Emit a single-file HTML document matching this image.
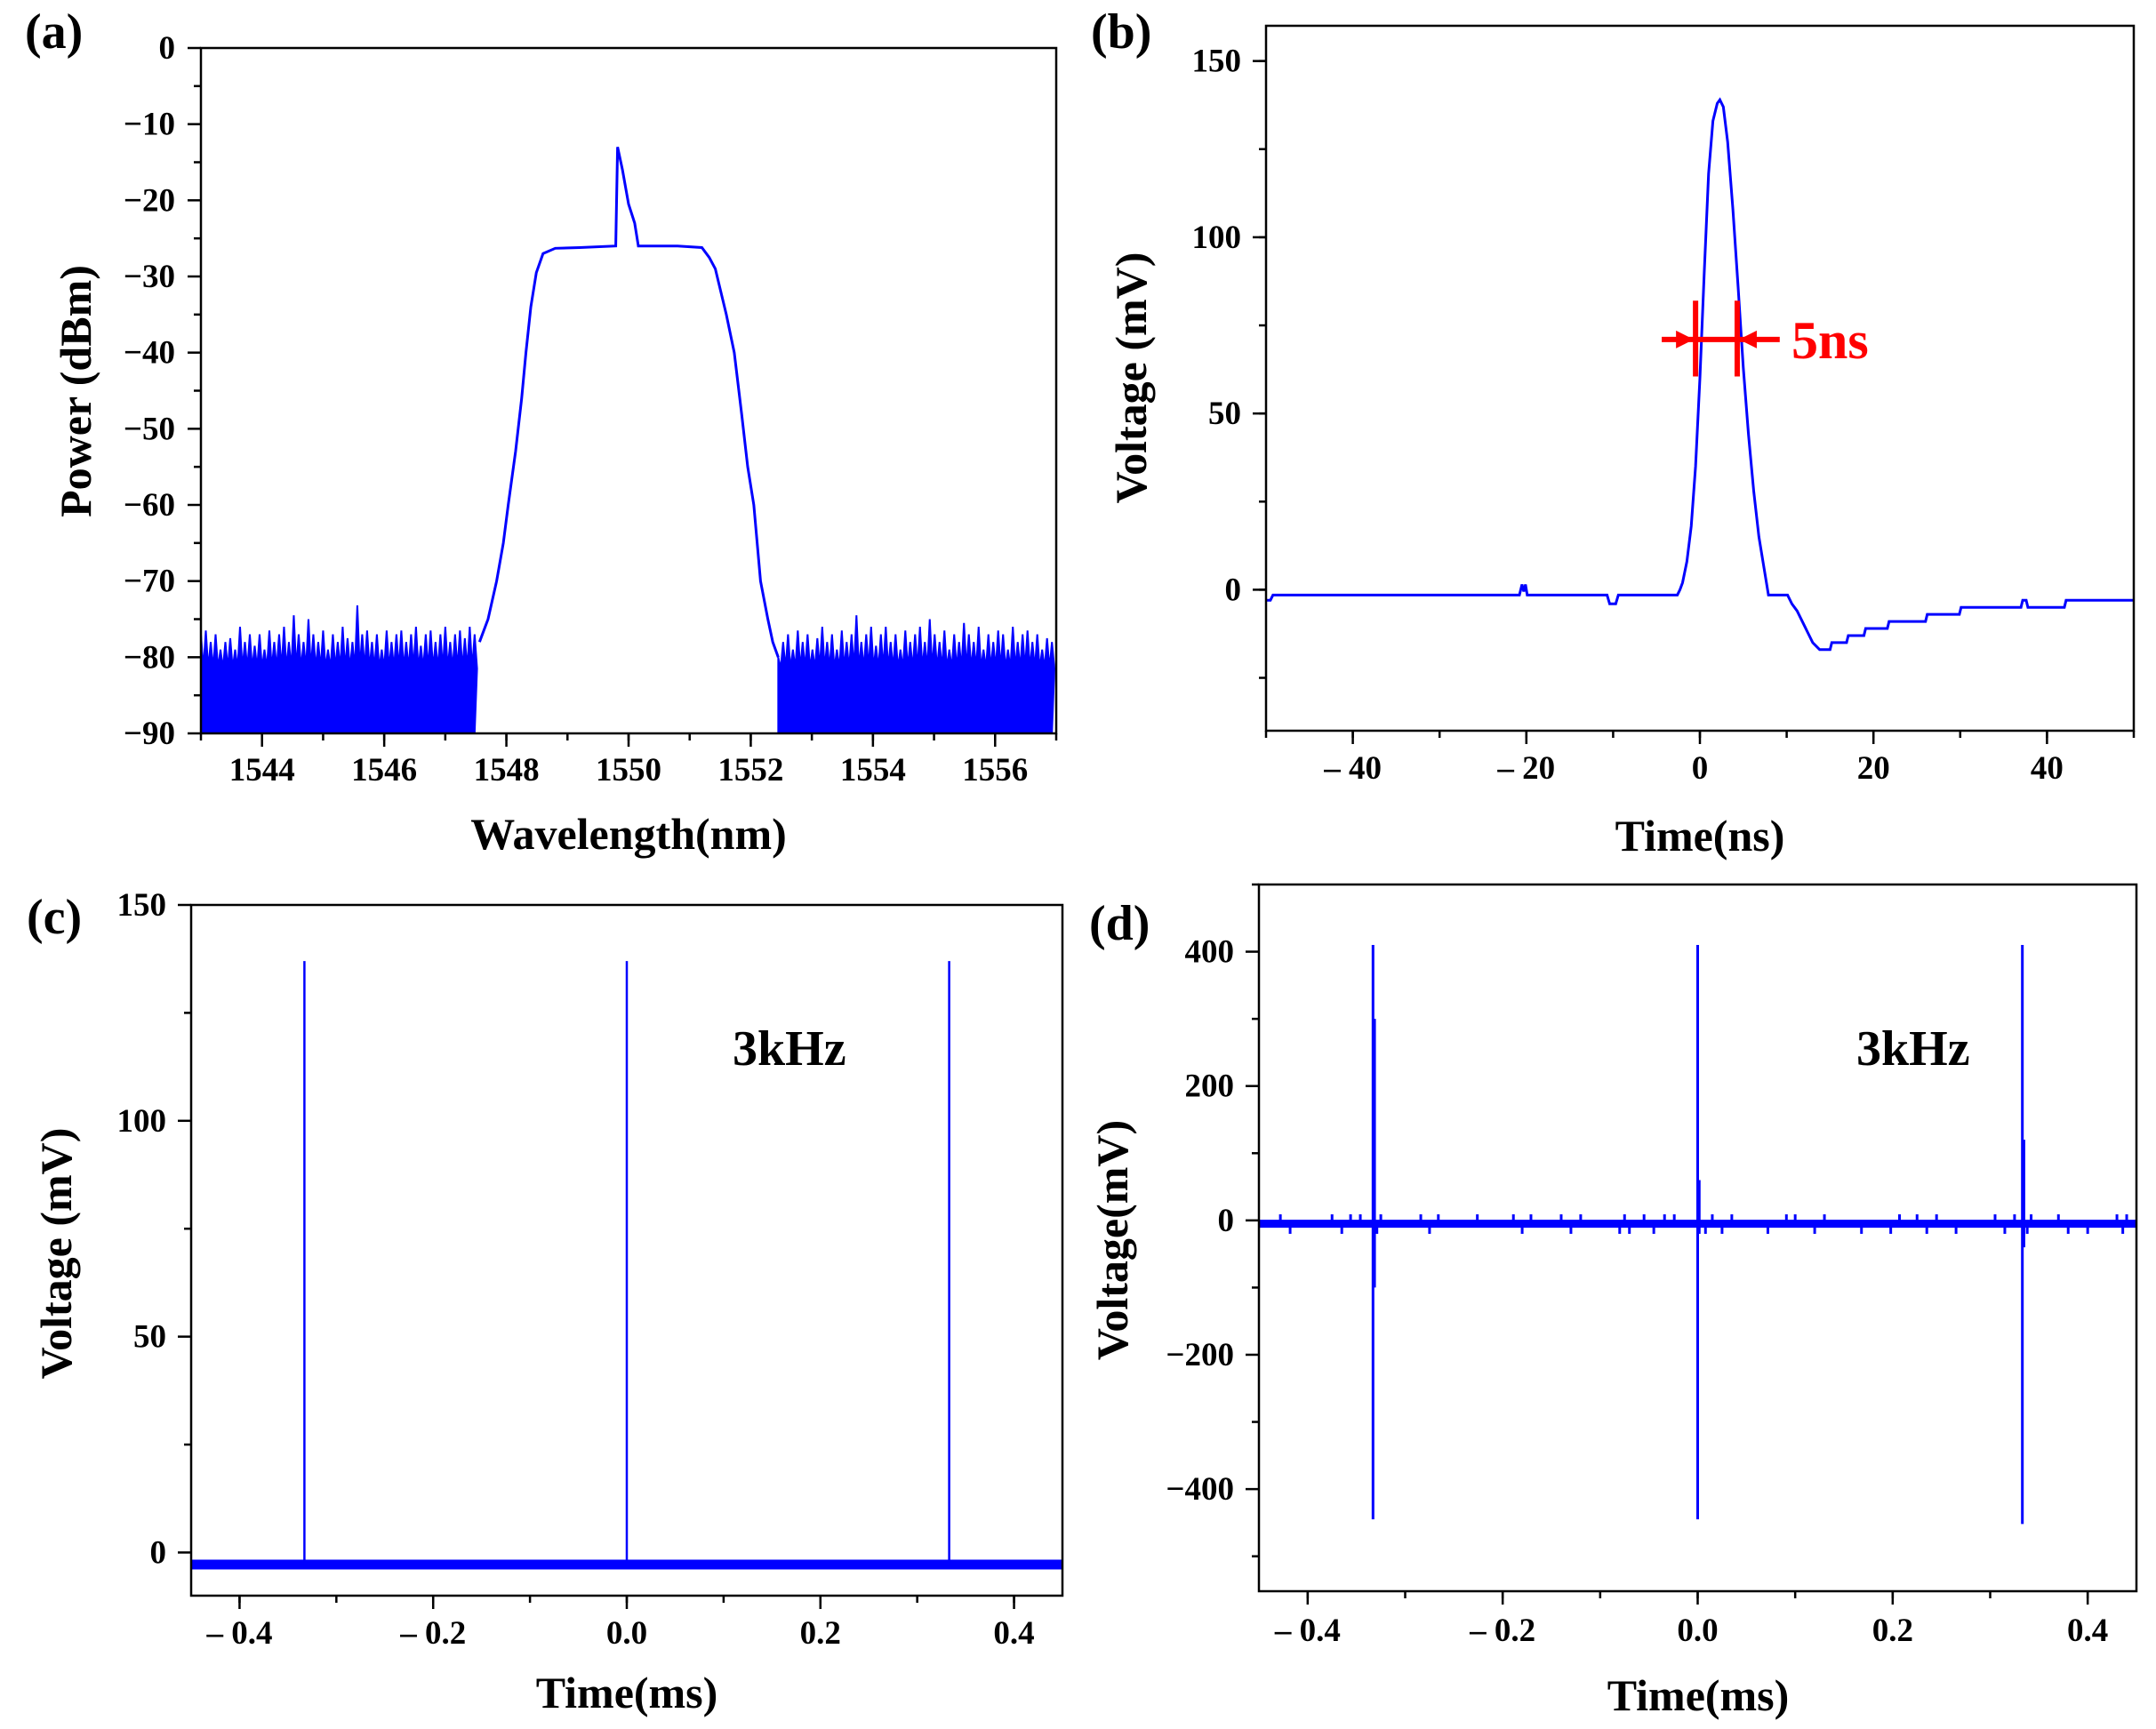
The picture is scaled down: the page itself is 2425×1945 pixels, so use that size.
<!DOCTYPE html>
<html><head><meta charset="utf-8">
<style>
html,body{margin:0;padding:0;background:#fff;}
svg{display:block;font-family:"Liberation Serif",serif;font-weight:bold;}
</style></head>
<body>
<svg id="fig" xmlns="http://www.w3.org/2000/svg" width="2425" height="1945" viewBox="0 0 2425 1945">
<rect width="2425" height="1945" fill="#fff"/>
</svg>
<script>
// ---------- Panel (a) data ----------
const aMainWl = [1547.56,1547.7,1547.84,1547.95,1548.03,1548.15,1548.25,1548.32,1548.4,1548.49,1548.6,1548.8,1549.2,1549.79,1549.82,1549.9,1550.0,1550.1,1550.16,1550.8,1551.2,1551.32,1551.42,1551.48,1551.6,1551.73,1551.85,1551.95,1552.05,1552.16,1552.28,1552.36,1552.45];
const aMainDb = [-78,-75,-70,-65,-60,-53,-46,-40,-34,-29.5,-27,-26.3,-26.2,-26.0,-13,-16,-20.5,-23,-26,-26.0,-26.2,-27.5,-29,-31,-35,-40,-48,-55,-60,-70,-75,-78,-80];
const aLeftStart = 1543.0, aRightStart = 1552.45, aNoiseStep = 0.08;
const aLeftNoise = [-77,-76.5,-78,-77,-79,-78,-77.5,-79,-76,-78,-77,-78.5,-77,-79,-76.5,-78,-77,-76,-78,-74.5,-77,-78,-75,-77,-78,-76.5,-79,-77,-78,-76,-77.5,-78,-73.2,-77,-76.5,-78,-77,-79,-76.5,-78,-77,-76.5,-78,-77,-76,-78.5,-77,-76.5,-78,-77,-76,-78,-77,-76.5,-77.5,-76,-77];
const aRightNoise = [-80,-78,-77,-79,-76.5,-78,-77,-79,-77.5,-76,-78,-77,-79,-76.5,-78,-77,-74.5,-78,-77,-76,-78.5,-77,-76,-78,-77,-79,-76.5,-78,-77,-76,-78,-75,-77,-78,-76.5,-79,-77,-78,-75.5,-77,-78,-76,-79,-77,-78,-76.5,-77,-79,-76,-78,-77,-76.5,-78,-77,-79,-77.5,-78];
const aNoiseTrough = -81.5;
const aXTicks = [1544,1546,1548,1550,1552,1554,1556];
const aYTicks = [0,-10,-20,-30,-40,-50,-60,-70,-80,-90];
const aYLabels = ["0","−10","−20","−30","−40","−50","−60","−70","−80","−90"];

// ---------- Panel (b) data ----------
const bTime = [-50,-49.5,-49.2,-20.8,-20.5,-20.3,-20.1,-19.9,-19.7,-10.7,-10.4,-9.7,-9.4,-2.6,-2.3,-2,-1.5,-1,-0.5,0,0.5,1,1.5,2,2.3,2.7,3.2,3.8,4.4,5,5.6,6.2,6.8,7.4,7.9,10.1,10.6,11.2,11.8,12.4,13,13.8,15,15.2,16.9,17.1,18.9,19.1,21.6,21.8,26,26.2,29.9,30.1,37,37.2,37.6,37.8,42,42.2,50];
const bVolt = [-3,-3,-1.5,-1.5,1.5,-0.5,1.5,-1.5,-1.5,-1.5,-4,-4,-1.5,-1.5,0,2,8,18,35,60,90,118,133,138,139,137,127,108,86,63,44,28,15,6,-1.5,-1.5,-4,-6,-9,-12,-15,-17,-17,-15,-15,-13,-13,-11,-11,-9,-9,-7,-7,-5,-5,-3,-3,-5,-5,-3,-3];
const bFwhmLeft = -0.5, bFwhmRight = 4.3, bFwhmLevel = 71, bBarTop = 82, bBarBottom = 60.5, bArrowStart = -4.4, bArrowEnd = 9.2;
const bXTicks = [-40,-20,0,20,40];
const bXLabels = ["– 40","– 20","0","20","40"];
const bYTicks = [0,50,100,150];

// ---------- Panel (c) data ----------
const cPulseTimes = [-0.333,0.0,0.333];
const cPulsePeak = [137,137,137];
const cBaseline = -2.8;
const cXTicks = [-0.4,-0.2,0,0.2,0.4];
const cXLabels = ["– 0.4","– 0.2","0.0","0.2","0.4"];
const cYTicks = [0,50,100,150];

// ---------- Panel (d) data ----------
const dPulseTimes = [-0.333,0.0,0.333];
const dPulseMax = [410,410,410];
const dPulseMin = [-445,-445,-452];
const dRing = [300,60,120];
const dBaseline = -5;
const dNoiseX = [-0.428,-0.418,-0.375,-0.365,-0.356,-0.346,-0.329,-0.325,-0.284,-0.275,-0.266,-0.226,-0.189,-0.18,-0.171,-0.14,-0.13,-0.12,-0.08,-0.075,-0.07,-0.055,-0.045,-0.034,-0.024,0.008,0.015,0.025,0.035,0.072,0.091,0.1,0.12,0.13,0.168,0.198,0.207,0.225,0.235,0.245,0.265,0.305,0.315,0.325,0.338,0.342,0.37,0.38,0.4,0.43,0.436,0.44];
const dNoiseV = [14,-15,14,-15,14,14,-15,14,14,-15,14,14,14,-15,14,14,-15,14,-15,14,-15,14,-15,14,14,-15,14,-15,14,-15,14,14,-15,14,-15,-15,14,14,-15,14,-15,14,-15,14,-15,14,14,-15,-15,14,-15,14];
const dXTicks = [-0.4,-0.2,0,0.2,0.4];
const dXLabels = ["– 0.4","– 0.2","0.0","0.2","0.4"];
const dYTicks = [-400,-200,0,200,400];
const dYLabels = ["−400","−200","0","200","400"];

const NS = "http://www.w3.org/2000/svg";
const svg = document.getElementById('fig');
function mk(tag, attrs, parent){
  const e = document.createElementNS(NS, tag);
  for (const k in attrs) e.setAttribute(k, attrs[k]);
  (parent||svg).appendChild(e);
  return e;
}
function scale(d0,d1,p0,p1){ return v => p0 + (v-d0)/(d1-d0)*(p1-p0); }

function axes(g, P, sx, sy, xt, xl, yt, yl, xminor, yminor, xlabY, ylabX){
  const frame = mk('rect',{x:P.l,y:P.t,width:P.r-P.l,height:P.b-P.t,fill:'none',stroke:'#000','stroke-width':2.5},g);
  
  
  xminor.forEach(v=>{ const t=mk('line',{x1:sx(v),x2:sx(v),y1:P.b,y2:P.b+8,stroke:'#000','stroke-width':2.5},g);
     });
  yminor.forEach(v=>{ const t=mk('line',{x1:P.l-8,x2:P.l,y1:sy(v),y2:sy(v),stroke:'#000','stroke-width':2.5},g);
     });
  xt.forEach((v,i)=>{
    const t=mk('line',{x1:sx(v),x2:sx(v),y1:P.b,y2:P.b+15,stroke:'#000','stroke-width':2.5},g);
     
    const tx=mk('text',{x:sx(v),y:xlabY,'text-anchor':'middle','font-size':37},g);
    tx.textContent = xl[i];
     
  });
  yt.forEach((v,i)=>{
    const t=mk('line',{x1:P.l-15,x2:P.l,y1:sy(v),y2:sy(v),stroke:'#000','stroke-width':2.5},g);
     
    const tx=mk('text',{x:ylabX,y:sy(v)+12,'text-anchor':'end','font-size':37},g);
    tx.textContent = yl[i];
     
  });
}
function txt(g,x,y,s,size,name,extra){
  const t=mk('text',Object.assign({x:x,y:y,'font-size':size},extra||{}),g);
  t.textContent=s;
  
  
  return t;
}
function range(a,b,s){const r=[];for(let v=a;v<=b+1e-9;v+=s)r.push(+v.toFixed(6));return r;}

// ===== Panel (a) =====
(function(){
  const g=mk('g',{});
   
  const P={l:226,r:1188,t:54,b:825};
  const sx=scale(1543,1557,P.l,P.r), sy=scale(-90,0,P.b,P.t);
  function noise(start, arr, name){
    let d=`M${sx(start)},${sy(-90)}`;
    arr.forEach((v,i)=>{ const x=sx(start+i*aNoiseStep); const x2=sx(start+(i+0.5)*aNoiseStep);
      d+=` L${x},${sy(v)} L${x2},${sy(aNoiseTrough)}`; });
    d+=` L${sx(start+(arr.length-1)*aNoiseStep)},${sy(-90)} Z`;
    const p=mk('path',{d:d,fill:'#0000ff',stroke:'#0000ff','stroke-width':2,'stroke-linejoin':'miter'},g);
     
  }
  noise(aLeftStart,aLeftNoise,'noise-floor-left');
  noise(aRightStart,aRightNoise,'noise-floor-right');
  const pts=aMainWl.map((w,i)=>sx(w)+','+sy(aMainDb[i])).join(' ');
  const pl=mk('polyline',{points:pts,fill:'none',stroke:'#0000ff','stroke-width':3},g);
   
  axes(g,P,sx,sy,aXTicks,aXTicks.map(String),aYTicks,aYLabels,range(1543,1557,1),range(-85,-5,10),878,197);
  txt(g,707,955,'Wavelength(nm)',50,'x-axis-title',{'text-anchor':'middle'});
  txt(g,0,0,'Power (dBm)',50,'y-axis-title',{'text-anchor':'middle',transform:'translate(102,440) rotate(-90)'});
  txt(g,28,54,'(a)',56,'panel-label-a');
})();

// ===== Panel (b) =====
(function(){
  const g=mk('g',{});
   
  const P={l:1424,r:2400,t:29,b:822};
  const sx=scale(-50,50,P.l,P.r), sy=scale(-40,160,P.b,P.t);
  const pts=bTime.map((t,i)=>sx(t)+','+sy(bVolt[i])).join(' ');
  const pl=mk('polyline',{points:pts,fill:'none',stroke:'#0000ff','stroke-width':3},g);
   
  const red='#ff0000';
  [bFwhmLeft,bFwhmRight].forEach(v=>{const l=mk('line',{x1:sx(v),x2:sx(v),y1:sy(bBarTop),y2:sy(bBarBottom),stroke:red,'stroke-width':6},g);
     });
  const y=sy(bFwhmLevel);
  const l1=mk('line',{x1:sx(bArrowStart),x2:sx(bArrowEnd),y1:y,y2:y,stroke:red,'stroke-width':6},g);
   
  const a1=mk('polygon',{points:`${sx(bFwhmLeft)-2},${y} ${sx(bFwhmLeft)-22},${y-10} ${sx(bFwhmLeft)-22},${y+10}`,fill:red},g);
   
  const a2=mk('polygon',{points:`${sx(bFwhmRight)+2},${y} ${sx(bFwhmRight)+22},${y-10} ${sx(bFwhmRight)+22},${y+10}`,fill:red},g);
   
  txt(g,2015,403,'5ns',60,'fwhm-label',{fill:red});
  axes(g,P,sx,sy,bXTicks,bXLabels,bYTicks,bYTicks.map(String),range(-50,50,10),range(-25,150,25),876,1396);
  txt(g,1912,957,'Time(ns)',50,'x-axis-title',{'text-anchor':'middle'});
  txt(g,0,0,'Voltage (mV)',50,'y-axis-title',{'text-anchor':'middle',transform:'translate(1289,425) rotate(-90)'});
  txt(g,1227,54,'(b)',56,'panel-label-b');
})();

// ===== Panel (c) =====
(function(){
  const g=mk('g',{});
   
  const P={l:215,r:1195,t:1018,b:1795};
  const sx=scale(-0.45,0.45,P.l,P.r), sy=scale(-10,150,P.b,P.t);
  const base=mk('line',{x1:P.l,x2:P.r,y1:sy(cBaseline),y2:sy(cBaseline),stroke:'#0000ff','stroke-width':11},g);
   
  cPulseTimes.forEach((t,i)=>{const l=mk('line',{x1:sx(t),x2:sx(t),y1:sy(cBaseline),y2:sy(cPulsePeak[i]),stroke:'#0000ff','stroke-width':2.5},g);
     });
  axes(g,P,sx,sy,cXTicks,cXLabels,cYTicks,cYTicks.map(String),range(-0.4,0.4,0.1),range(25,125,50),1849,187);
  txt(g,824,1198,'3kHz',56,'frequency-label');
  txt(g,705,1921,'Time(ms)',50,'x-axis-title',{'text-anchor':'middle'});
  txt(g,0,0,'Voltage (mV)',50,'y-axis-title',{'text-anchor':'middle',transform:'translate(80,1410) rotate(-90)'});
  txt(g,30,1050,'(c)',56,'panel-label-c');
})();

// ===== Panel (d) =====
(function(){
  const g=mk('g',{});
   
  const P={l:1416,r:2403,t:995,b:1790};
  const sx=scale(-0.45,0.45,P.l,P.r), sy=scale(-552,500,P.b,P.t);
  dNoiseX.forEach((t,i)=>{const l=mk('line',{x1:sx(t),x2:sx(t),y1:sy(dBaseline),y2:sy(dBaseline+dNoiseV[i]),stroke:'#0000ff','stroke-width':3},g);
     });
  const base=mk('line',{x1:P.l,x2:P.r,y1:sy(dBaseline),y2:sy(dBaseline),stroke:'#0000ff','stroke-width':9},g);
   
  dPulseTimes.forEach((t,i)=>{
    const l=mk('line',{x1:sx(t),x2:sx(t),y1:sy(dPulseMax[i]),y2:sy(dPulseMin[i]),stroke:'#0000ff','stroke-width':3},g);
     
    const r=mk('line',{x1:sx(t)+2,x2:sx(t)+2,y1:sy(dRing[i]),y2:sy(-dRing[i]/3),stroke:'#0000ff','stroke-width':2.5},g);
     
  });
  axes(g,P,sx,sy,dXTicks,dXLabels,dYTicks,dYLabels,range(-0.4,0.4,0.1),range(-500,500,200),1846,1388);
  txt(g,2088,1198,'3kHz',56,'frequency-label');
  txt(g,1910,1924,'Time(ms)',50,'x-axis-title',{'text-anchor':'middle'});
  txt(g,0,0,'Voltage(mV)',50,'y-axis-title',{'text-anchor':'middle',transform:'translate(1268,1395) rotate(-90)'});
  txt(g,1225,1057,'(d)',56,'panel-label-d');
})();
</script>
</body></html>
